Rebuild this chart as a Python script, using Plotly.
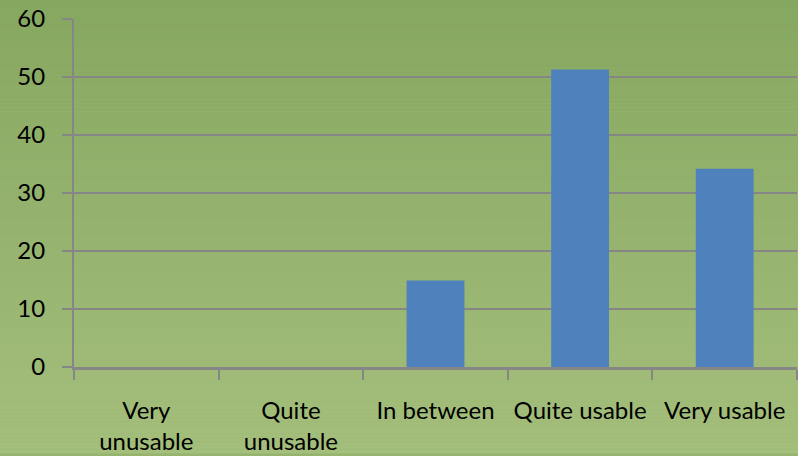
import plotly.graph_objects as go

categories = ["Very<br>unusable", "Quite<br>unusable", "In between", "Quite usable", "Very usable"]
values = [0, 0, 14.9, 51.3, 34.2]
y_ticks = [0, 10, 20, 30, 40, 50, 60]

W, H = 798, 456
L, R, T, B = 74, 1, 19, 87
plot_w = W - L - R
plot_h = H - T - B

fig = go.Figure(
    go.Bar(
        x=categories,
        y=values,
        marker=dict(color="#4f81bd", line=dict(width=0)),
        width=0.4,
    )
)

# vertical green gradient behind the whole chart, built from thin strips
top_rgb = (134, 167, 96)
bot_rgb = (164, 191, 124)
shapes = []
step = 4
for p in range(0, H, step):
    f = (p + step / 2) / H
    c = tuple(round(a + (b - a) * f) for a, b in zip(top_rgb, bot_rgb))
    shapes.append(dict(
        type="rect", xref="paper", yref="paper", layer="below",
        x0=-L / plot_w - 0.01, x1=1 + (R + 2) / plot_w,
        y0=(T + plot_h - (p + step)) / plot_h,
        y1=(T + plot_h - p) / plot_h,
        fillcolor="rgb(%d,%d,%d)" % c, line=dict(width=0),
    ))

font = "Lato, 'Open Sans', sans-serif"
fig.update_layout(
    width=W, height=H,
    margin=dict(l=L, r=R, t=T, b=B),
    paper_bgcolor="rgb(150,180,110)",
    plot_bgcolor="rgba(0,0,0,0)",
    shapes=shapes,
    showlegend=False,
    bargap=0.6,
    font=dict(family=font, size=24, color="#000000"),
    xaxis=dict(
        type="category",
        tickson="boundaries",
        ticks="outside", ticklen=10, tickwidth=2, tickcolor="#868686",
        showline=True, linecolor="#868686", linewidth=3,
        showgrid=False,
        tickfont=dict(family=font, size=24, color="#000000"),
        ticklabelstandoff=20,
        fixedrange=True,
    ),
    yaxis=dict(
        range=[0, 60],
        tickvals=y_ticks,
        ticks="outside", ticklen=10, tickwidth=2, tickcolor="#868686",
        showline=True, linecolor="#868686", linewidth=2,
        showgrid=True, gridcolor="#868686", gridwidth=2,
        zeroline=False,
        tickfont=dict(family=font, size=24, color="#000000"),
        ticklabelstandoff=12,
        fixedrange=True,
    ),
)

fig.write_html("out.html")
